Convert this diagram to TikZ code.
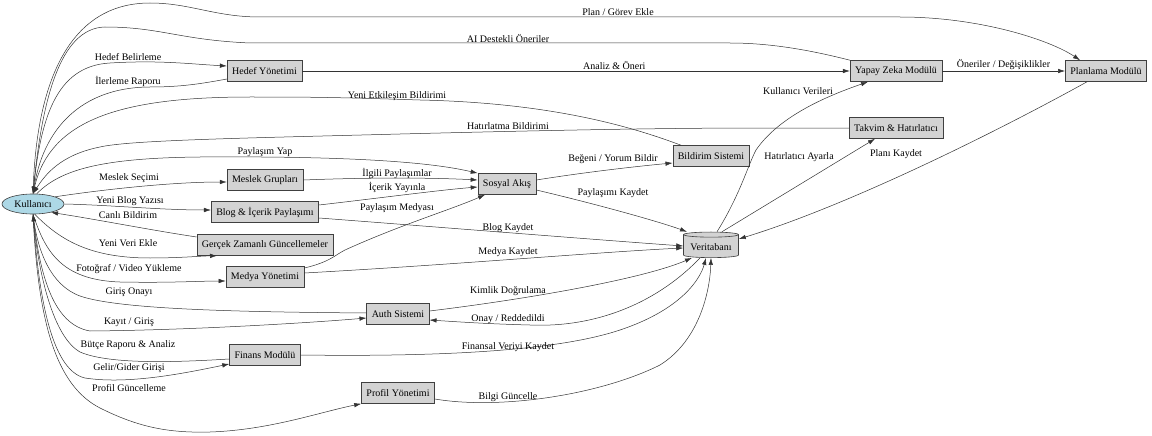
\documentclass[tikz,border=0pt]{standalone}
\usepackage{fontspec}
\setmainfont{Liberation Serif}
\usepackage{tikz}
\usetikzlibrary{shapes.geometric,arrows.meta}
\definecolor{kulblue}{HTML}{ADD8E6}
\definecolor{boxgray}{HTML}{D3D3D3}

\begin{document}
\begin{tikzpicture}[x=1pt,y=-1pt,font=\fontsize{10}{12}\selectfont]
\tikzstyle{main}=[ellipse, draw=black!75, fill=kulblue, minimum width=62pt, minimum height=20pt, inner sep=1pt, line width=0.6pt]
\tikzstyle{box}=[rectangle, draw=black!75, fill=boxgray, minimum height=21pt, inner xsep=5pt, line width=0.6pt]
\tikzstyle{db}=[cylinder, shape border rotate=90, aspect=0.1, draw=black!75, fill=boxgray, minimum width=55pt, inner xsep=5pt, inner ysep=6pt, line width=0.6pt]
\tikzstyle{connect}=[-{Latex[length=7pt,width=4.5pt]}, draw=black!80, line width=0.5pt]
\tikzstyle{lbl}=[inner sep=1pt]
\useasboundingbox (0,0) rectangle (1152,436);
  % nodes
  \node[main] (kul) at (33,204) {Kullanıcı};
  \node[box] (hedef) at (264.5,71) {Hedef Yönetimi};
  \node[box] (yapay) at (896,71) {Yapay Zeka Modülü};
  \node[box] (plan) at (1106,71) {Planlama Modülü};
  \node[box] (bildirim) at (711,156) {Bildirim Sistemi};
  \node[box] (takvim) at (896,128) {Takvim \& Hatırlatıcı};
  \node[box] (meslek) at (265,180) {Meslek Grupları};
  \node[box] (sosyal) at (507,184) {Sosyal Akış};
  \node[box] (blog) at (265,212) {Blog \& İçerik Paylaşımı};
  \node[box] (gercek) at (265,245) {Gerçek Zamanlı Güncellemeler};
  \node[box] (medya) at (265,277) {Medya Yönetimi};
  \node[db] (veri) at (711,247) {Veritabanı};
  \node[box] (auth) at (398,314) {Auth Sistemi};
  \node[box] (finans) at (265,355) {Finans Modülü};
  \node[box] (profil) at (398,393) {Profil Yönetimi};

  % top arcs
  \draw[connect] (kul.north) .. controls (36,80) and (70,3) .. (150,3) .. controls (190,3) and (215,17) .. (260,17) -- (900,17) .. controls (980,17) and (1050,40) .. ([xshift=-26pt]plan.north) node[lbl] at (618,12) {Plan / Görev Ekle};
  \draw[connect] (yapay.north west) .. controls (810,50) and (770,43) .. (730,43) -- (250,43) .. controls (180,40) and (160,27) .. (105,27) .. controls (60,28) and (42,100) .. (kul.north) node[lbl] at (508,38) {AI Destekli Öneriler};
  \draw[connect] (kul.north) .. controls (40,120) and (55,66) .. (110,63) .. controls (160,60) and (190,64) .. ([yshift=5pt]hedef.west) node[lbl] at (128,57) {Hedef Belirleme};
  \draw[connect] ([yshift=-8pt]hedef.west) .. controls (200,84) and (180,87) .. (150,87) .. controls (90,87) and (45,120) .. (kul.north) node[lbl] at (128,81) {İlerleme Raporu};
  \path (hedef) edge [connect] node[lbl,above,pos=0.57] {Analiz \& Öneri} (yapay);
  \path (yapay) edge [connect] node[lbl,above] {Öneriler / Değişiklikler} (plan);
  \draw[connect] ([xshift=-30pt]bildirim.north) .. controls (640,130) and (560,103) .. (420,100) .. controls (330,97) and (300,97) .. (250,97) .. controls (120,97) and (50,120) .. (kul.north) node[lbl] at (397,96) {Yeni Etkileşim Bildirimi};
  \draw[connect] (takvim.west) -- (760,128) .. controls (650,128) and (520,131) .. (400,134) .. controls (250,138) and (130,140) .. (100,147) .. controls (60,155) and (45,175) .. (kul.north) node[lbl] at (508,126) {Hatırlatma Bildirimi};
  \draw[connect] (kul.70) .. controls (60,170) and (100,158) .. (200,157) .. controls (350,156) and (430,162) .. (sosyal.north west) node[lbl] at (265,152) {Paylaşım Yap};

  % middle
  \draw[connect] (kul.18) .. controls (100,190) and (170,182) .. ([yshift=-2pt]meslek.west) node[lbl] at (129,178) {Meslek Seçimi};
  \draw[connect] (kul.east) .. controls (110,205) and (160,210) .. ([yshift=2pt]blog.west) node[lbl] at (130,201) {Yeni Blog Yazısı};
  \draw[connect] ([yshift=8pt]gercek.west) .. controls (150,230) and (100,220) .. (kul.-25) node[lbl] at (128,215) {Canlı Bildirim};
  \draw[connect] (kul.-80) .. controls (60,240) and (90,258) .. (150,258) .. controls (180,258) and (200,256) .. ([xshift=-48pt]gercek.south) node[lbl] at (128,243) {Yeni Veri Ekle};
  \draw[connect] (kul.south) .. controls (45,250) and (60,280) .. (120,282) .. controls (170,283) and (200,281) .. ([yshift=-4pt]medya.west) node[lbl] at (129,269) {Fotoğraf / Video Yükleme};
  \draw[connect] (meslek.east) .. controls (380,177) and (440,178) .. ([yshift=4pt]sosyal.west) node[lbl] at (397,173) {İlgili Paylaşımlar};
  \draw[connect] ([yshift=7pt]blog.east) .. controls (380,198) and (440,190) .. ([yshift=-3pt]sosyal.west) node[lbl] at (397,187) {İçerik Yayınla};
  \draw[connect] ([yshift=9pt]medya.east) .. controls (330,262) and (335,255) .. (345,250) .. controls (400,225) and (450,210) .. ([xshift=-22pt]sosyal.south) node[lbl] at (397,208) {Paylaşım Medyası};
  \draw[connect] ([yshift=4pt]sosyal.east) .. controls (580,173) and (630,167) .. ([yshift=-7pt]bildirim.west) node[lbl] at (613,159) {Beğeni / Yorum Bildir};
  \draw[connect] ([yshift=-6pt]sosyal.east) .. controls (600,205) and (660,222) .. ([xshift=-24pt]veri.north) node[lbl] at (613,193) {Paylaşımı Kaydet};
  \draw[connect] ([yshift=-6pt]blog.east) .. controls (450,228) and (600,240) .. ([yshift=1pt]veri.west) node[lbl] at (508,228) {Blog Kaydet};
  \draw[connect] ([yshift=4pt]medya.east) .. controls (450,265) and (600,252) .. ([yshift=-1pt]veri.west) node[lbl] at (508,252) {Medya Kaydet};

  % right side
  \draw[connect] ([xshift=6pt]veri.north) .. controls (740,195) and (748,165) .. (756,150) .. controls (780,115) and (830,95) .. ([xshift=-28pt]yapay.south) node[lbl] at (798,91) {Kullanıcı Verileri};
  \draw[connect] ([xshift=11pt]veri.north) -- ([xshift=-21pt]takvim.south) node[lbl] at (799,157) {Hatırlatıcı Ayarla};
  \draw[connect] ([xshift=-19pt]plan.south) .. controls (1000,130) and (850,205) .. ([yshift=8pt]veri.east) node[lbl] at (896,154) {Planı Kaydet};

  % bottom
  \draw[connect] ([yshift=1pt]auth.west) .. controls (250,312) and (120,310) .. (80,296) .. controls (50,285) and (38,250) .. (kul.south) node[lbl] at (129,292) {Giriş Onayı};
  \draw[connect] (kul.south) .. controls (40,280) and (55,325) .. (90,331) .. controls (200,330) and (320,322) .. ([yshift=-4pt]auth.west) node[lbl] at (129,322) {Kayıt / Giriş};
  \draw[connect] ([yshift=3pt]auth.east) .. controls (520,300) and (640,280) .. ([xshift=-19pt]veri.south) node[lbl] at (508,291) {Kimlik Doğrulama};
  \draw[connect] ([xshift=-11pt]veri.south) .. controls (660,300) and (600,328) .. (530,325) .. controls (490,324) and (460,322) .. ([yshift=-6pt]auth.east) node[lbl] at (508,319) {Onay / Reddedildi};
  \draw[connect] ([yshift=-4pt]finans.west) .. controls (180,362) and (110,365) .. (80,352) .. controls (50,335) and (37,260) .. (kul.south) node[lbl] at (128,345) {Bütçe Raporu \& Analiz};
  \draw[connect] (kul.south) .. controls (38,290) and (50,370) .. (85,378) .. controls (130,385) and (190,372) .. ([yshift=-9pt]finans.west) node[lbl] at (129,368) {Gelir/Gider Girişi};
  \draw[connect] (finans.east) .. controls (450,357) and (560,350) .. (620,330) .. controls (680,310) and (700,280) .. ([xshift=-5pt]veri.south) node[lbl] at (508,347) {Finansal Veriyi Kaydet};
  \draw[connect] (kul.south) .. controls (38,320) and (55,385) .. (100,408) .. controls (140,428) and (170,433) .. (210,432) .. controls (270,430) and (320,412) .. (profil.south west) node[lbl] at (129,388) {Profil Güncelleme};
  \draw[connect] ([yshift=-6pt]profil.east) .. controls (500,410) and (600,395) .. (660,365) .. controls (700,340) and (710,290) .. (veri.south) node[lbl] at (508,397) {Bilgi Güncelle};
\end{tikzpicture}
\end{document}
